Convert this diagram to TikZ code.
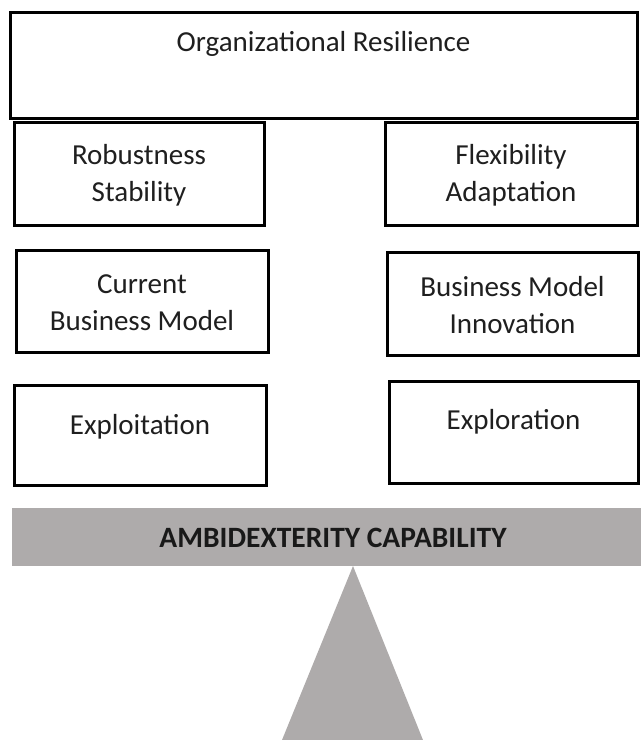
\documentclass[tikz,border=0pt]{standalone}
\usepackage{fontspec}
\setmainfont{Carlito}
\definecolor{beam}{RGB}{174,171,171}
\begin{document}
\begin{tikzpicture}[x=1pt,y=-1pt,
  frame/.style={draw=black, line width=3pt, fill=white, inner sep=0pt},
  lbl/.style={font=\fontsize{29}{37}\selectfont, align=center, inner sep=0pt, text=black!88},
  beamlbl/.style={font=\fontsize{29.5}{34}\selectfont\bfseries, inner sep=0pt, text=black!90}]
\useasboundingbox (0,0) rectangle (641,740);

% top level outcome
\node[frame, minimum width=627pt, minimum height=106pt] (res) at (323.5,65) {};
\node[lbl] (resT) at (323.5,44) {Organizational Resilience};

% left column: stability side
\node[frame, minimum width=250pt, minimum height=103pt] (rob) at (139,173.5) {};
\node[lbl] (robT) at (139,175) {Robustness\\Stability};
\node[frame, minimum width=252pt, minimum height=102pt] (cur) at (142,301) {};
\node[lbl] (curT) at (142,303) {Current\\Business Model};
\node[frame, minimum width=252pt, minimum height=100pt] (xpt) at (140,435) {};
\node[lbl] (xptT) at (140,427) {Exploitation};

% right column: change side
\node[frame, minimum width=252pt, minimum height=103pt] (flx) at (511,173.5) {};
\node[lbl] (flxT) at (511,175) {Flexibility\\Adaptation};
\node[frame, minimum width=251pt, minimum height=103pt] (bmi) at (512.5,303.5) {};
\node[lbl] (bmiT) at (512.5,305) {Business Model\\Innovation};
\node[frame, minimum width=249pt, minimum height=102pt] (xpr) at (513.5,432) {};
\node[lbl] (xprT) at (513.5,422) {Exploration};

% balance beam and fulcrum
\fill[beam] (12,508) rectangle (641,566);
\node[beamlbl] (amb) at (333,538) {AMBIDEXTERITY CAPABILITY};
\fill[beam] (353,566) -- (423,740) -- (282,740) -- cycle;
\end{tikzpicture}
\end{document}
